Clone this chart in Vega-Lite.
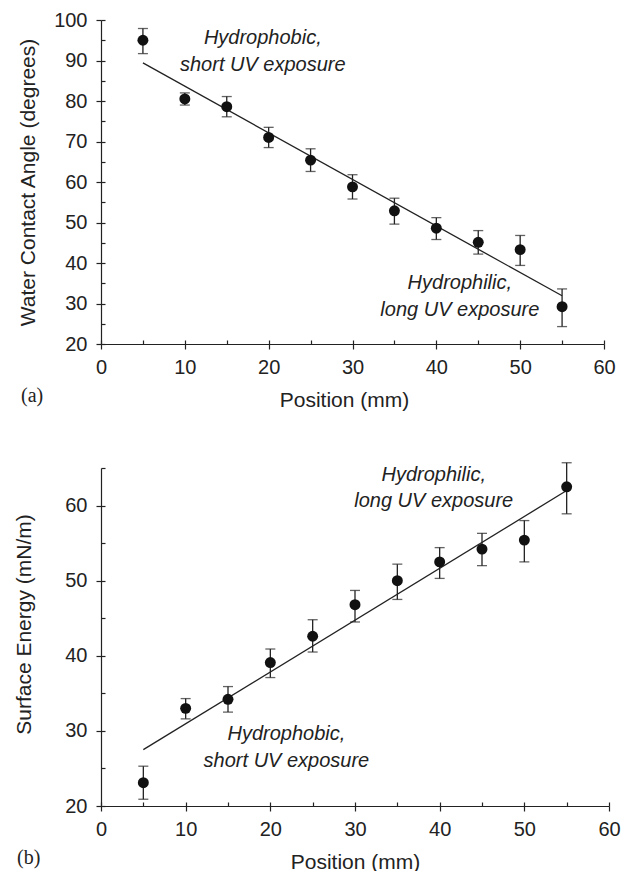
{
  "$schema": "https://vega.github.io/schema/vega-lite/v6.json",
  "padding": {"left": 13, "top": 10, "right": 0, "bottom": 2},
  "background": "white",
  "datasets": {
    "a_pts": [
      {"x": 5, "y": 95.0, "lo": 91.7, "hi": 97.9},
      {"x": 10, "y": 80.5, "lo": 79.0, "hi": 82.0},
      {"x": 15, "y": 78.6, "lo": 76.1, "hi": 81.1},
      {"x": 20, "y": 71.0, "lo": 68.5, "hi": 73.5},
      {"x": 25, "y": 65.4, "lo": 62.6, "hi": 68.2},
      {"x": 30, "y": 58.8, "lo": 55.8, "hi": 61.8},
      {"x": 35, "y": 52.9, "lo": 49.6, "hi": 56.0},
      {"x": 40, "y": 48.6, "lo": 45.8, "hi": 51.2},
      {"x": 45, "y": 45.1, "lo": 42.2, "hi": 48.0},
      {"x": 50, "y": 43.3, "lo": 39.4, "hi": 46.8},
      {"x": 55, "y": 29.2, "lo": 24.3, "hi": 33.6}
    ],
    "a_fit": [{"x": 5, "y": 89.4}, {"x": 55, "y": 31.9}],
    "a_txt": [
      {"x": 19.3, "y": 94.1, "label": "Hydrophobic,"},
      {"x": 19.3, "y": 87.3, "label": "short UV exposure"},
      {"x": 42.8, "y": 33.6, "label": "Hydrophilic,"},
      {"x": 42.8, "y": 27.0, "label": "long UV exposure"}
    ],
    "b_pts": [
      {"x": 5, "y": 23.1, "lo": 20.9, "hi": 25.3},
      {"x": 10, "y": 33.0, "lo": 31.6, "hi": 34.3},
      {"x": 15, "y": 34.2, "lo": 32.5, "hi": 35.9},
      {"x": 20, "y": 39.1, "lo": 37.1, "hi": 40.9},
      {"x": 25, "y": 42.6, "lo": 40.5, "hi": 44.8},
      {"x": 30, "y": 46.8, "lo": 44.5, "hi": 48.7},
      {"x": 35, "y": 50.0, "lo": 47.5, "hi": 52.2},
      {"x": 40, "y": 52.5, "lo": 50.3, "hi": 54.4},
      {"x": 45, "y": 54.2, "lo": 52.0, "hi": 56.3},
      {"x": 50, "y": 55.4, "lo": 52.5, "hi": 58.0},
      {"x": 55, "y": 62.5, "lo": 58.9, "hi": 65.7}
    ],
    "b_fit": [{"x": 5, "y": 27.5}, {"x": 55, "y": 62.0}],
    "b_txt": [
      {"x": 39.3, "y": 63.3, "label": "Hydrophilic,"},
      {"x": 39.3, "y": 59.8, "label": "long UV exposure"},
      {"x": 21.9, "y": 28.8, "label": "Hydrophobic,"},
      {"x": 21.9, "y": 25.2, "label": "short UV exposure"}
    ]
  },
  "config": {
    "font": "Liberation Sans",
    "view": {"stroke": null},
    "axis": {
      "grid": false,
      "domainColor": "#222",
      "domainWidth": 1.2,
      "tickColor": "#222",
      "tickWidth": 1.2,
      "labelColor": "#222",
      "labelFont": "Liberation Sans",
      "labelFontSize": 20,
      "titleFont": "Liberation Sans",
      "titleFontSize": 21,
      "titleFontWeight": "normal",
      "titleColor": "#222",
      "labelFlush": false,
      "labelOverlap": false
    }
  },
  "columns": 1,
  "align": "none",
  "spacing": 52,
  "concat": [
    {
      "width": 503,
      "height": 324,
      "title": {"text": "(a)", "orient": "bottom", "anchor": "start", "frame": "group", "dx": -80, "dy": -24, "offset": 0, "font": "Liberation Serif", "fontSize": 20, "fontWeight": "normal", "color": "#222"},
      "resolve": {"axis": {"x": "independent", "y": "independent"}},
      "layer": [
        {
          "data": {"name": "a_fit"},
          "mark": {"type": "line", "color": "#222", "strokeWidth": 1.3},
          "encoding": {
            "x": {"field": "x", "type": "quantitative", "scale": {"domain": [0, 60], "nice": false, "zero": false},
              "axis": {"orient": "bottom", "values": [0, 10, 20, 30, 40, 50, 60], "tickSize": 5, "labelPadding": 8, "title": "Position (mm)", "titlePadding": 12, "titleX": 243}},
            "y": {"field": "y", "type": "quantitative", "scale": {"domain": [20, 100], "nice": false, "zero": false},
              "axis": {"orient": "left", "values": [20, 30, 40, 50, 60, 70, 80, 90, 100], "tickSize": 5, "labelPadding": 9, "title": "Water Contact Angle (degrees)", "titleX": -63}}
          }
        },
        {
          "data": {"name": "a_pts"},
          "mark": {"type": "rule", "color": "#222", "strokeWidth": 1.3},
          "encoding": {
            "x": {"field": "x", "type": "quantitative", "scale": {"domain": [0, 60], "nice": false, "zero": false},
              "axis": {"orient": "bottom", "values": [0, 5, 10, 15, 20, 25, 30, 35, 40, 45, 50, 55, 60], "tickSize": -4, "labels": false, "domain": false, "title": null}},
            "y": {"field": "lo", "type": "quantitative", "scale": {"domain": [20, 100], "nice": false, "zero": false},
              "axis": {"orient": "left", "values": [20, 25, 30, 35, 40, 45, 50, 55, 60, 65, 70, 75, 80, 85, 90, 95, 100], "tickSize": -4, "labels": false, "domain": false, "title": null}},
            "y2": {"field": "hi"}
          }
        },
        {
          "data": {"name": "a_pts"},
          "mark": {"type": "tick", "orient": "horizontal", "color": "#222", "size": 10, "thickness": 1.3},
          "encoding": {
            "x": {"field": "x", "type": "quantitative", "scale": {"domain": [0, 60], "nice": false, "zero": false}, "axis": null},
            "y": {"field": "lo", "type": "quantitative", "scale": {"domain": [20, 100], "nice": false, "zero": false}, "axis": null}
          }
        },
        {
          "data": {"name": "a_pts"},
          "mark": {"type": "tick", "orient": "horizontal", "color": "#222", "size": 10, "thickness": 1.3},
          "encoding": {
            "x": {"field": "x", "type": "quantitative", "scale": {"domain": [0, 60], "nice": false, "zero": false}, "axis": null},
            "y": {"field": "hi", "type": "quantitative", "scale": {"domain": [20, 100], "nice": false, "zero": false}, "axis": null}
          }
        },
        {
          "data": {"name": "a_pts"},
          "mark": {"type": "circle", "color": "#111", "opacity": 1, "size": 120},
          "encoding": {
            "x": {"field": "x", "type": "quantitative", "scale": {"domain": [0, 60], "nice": false, "zero": false}, "axis": null},
            "y": {"field": "y", "type": "quantitative", "scale": {"domain": [20, 100], "nice": false, "zero": false}, "axis": null}
          }
        },
        {
          "data": {"name": "a_txt"},
          "mark": {"type": "text", "font": "Liberation Sans", "fontStyle": "italic", "fontSize": 20, "color": "#222", "align": "center", "baseline": "alphabetic"},
          "encoding": {
            "x": {"field": "x", "type": "quantitative", "scale": {"domain": [0, 60], "nice": false, "zero": false}, "axis": null},
            "y": {"field": "y", "type": "quantitative", "scale": {"domain": [20, 100], "nice": false, "zero": false}, "axis": null},
            "text": {"field": "label"}
          }
        }
      ]
    },
    {
      "width": 508,
      "height": 338,
      "title": {"text": "(b)", "orient": "bottom", "anchor": "start", "frame": "group", "dx": -84, "dy": -24, "offset": 0, "font": "Liberation Serif", "fontSize": 20, "fontWeight": "normal", "color": "#222"},
      "resolve": {"axis": {"x": "independent", "y": "independent"}},
      "layer": [
        {
          "data": {"name": "b_fit"},
          "mark": {"type": "line", "color": "#222", "strokeWidth": 1.3},
          "encoding": {
            "x": {"field": "x", "type": "quantitative", "scale": {"domain": [0, 60], "nice": false, "zero": false},
              "axis": {"orient": "bottom", "values": [0, 10, 20, 30, 40, 50, 60], "tickSize": 5, "labelPadding": 8, "title": "Position (mm)", "titlePadding": 12}},
            "y": {"field": "y", "type": "quantitative", "scale": {"domain": [20, 65], "nice": false, "zero": false},
              "axis": {"orient": "left", "values": [20, 30, 40, 50, 60], "tickSize": 5, "labelPadding": 9, "title": "Surface Energy (mN/m)", "titleX": -67, "titleY": 156}}
          }
        },
        {
          "data": {"name": "b_pts"},
          "mark": {"type": "rule", "color": "#222", "strokeWidth": 1.3},
          "encoding": {
            "x": {"field": "x", "type": "quantitative", "scale": {"domain": [0, 60], "nice": false, "zero": false},
              "axis": {"orient": "bottom", "values": [0, 5, 10, 15, 20, 25, 30, 35, 40, 45, 50, 55, 60], "tickSize": -4, "labels": false, "domain": false, "title": null}},
            "y": {"field": "lo", "type": "quantitative", "scale": {"domain": [20, 65], "nice": false, "zero": false},
              "axis": {"orient": "left", "values": [20, 25, 30, 35, 40, 45, 50, 55, 60, 65], "tickSize": -4, "labels": false, "domain": false, "title": null}},
            "y2": {"field": "hi"}
          }
        },
        {
          "data": {"name": "b_pts"},
          "mark": {"type": "tick", "orient": "horizontal", "color": "#222", "size": 10, "thickness": 1.3},
          "encoding": {
            "x": {"field": "x", "type": "quantitative", "scale": {"domain": [0, 60], "nice": false, "zero": false}, "axis": null},
            "y": {"field": "lo", "type": "quantitative", "scale": {"domain": [20, 65], "nice": false, "zero": false}, "axis": null}
          }
        },
        {
          "data": {"name": "b_pts"},
          "mark": {"type": "tick", "orient": "horizontal", "color": "#222", "size": 10, "thickness": 1.3},
          "encoding": {
            "x": {"field": "x", "type": "quantitative", "scale": {"domain": [0, 60], "nice": false, "zero": false}, "axis": null},
            "y": {"field": "hi", "type": "quantitative", "scale": {"domain": [20, 65], "nice": false, "zero": false}, "axis": null}
          }
        },
        {
          "data": {"name": "b_pts"},
          "mark": {"type": "circle", "color": "#111", "opacity": 1, "size": 120},
          "encoding": {
            "x": {"field": "x", "type": "quantitative", "scale": {"domain": [0, 60], "nice": false, "zero": false}, "axis": null},
            "y": {"field": "y", "type": "quantitative", "scale": {"domain": [20, 65], "nice": false, "zero": false}, "axis": null}
          }
        },
        {
          "data": {"name": "b_txt"},
          "mark": {"type": "text", "font": "Liberation Sans", "fontStyle": "italic", "fontSize": 20, "color": "#222", "align": "center", "baseline": "alphabetic"},
          "encoding": {
            "x": {"field": "x", "type": "quantitative", "scale": {"domain": [0, 60], "nice": false, "zero": false}, "axis": null},
            "y": {"field": "y", "type": "quantitative", "scale": {"domain": [20, 65], "nice": false, "zero": false}, "axis": null},
            "text": {"field": "label"}
          }
        }
      ]
    }
  ]
}
